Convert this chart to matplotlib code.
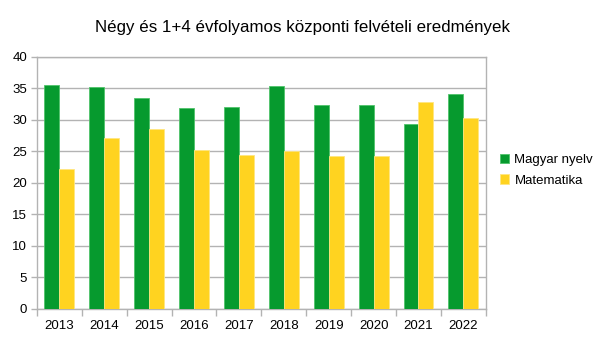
import numpy as np
import matplotlib.pyplot as plt

plt.rcParams['font.family'] = ['Liberation Sans', 'DejaVu Sans']

years = ['2013', '2014', '2015', '2016', '2017', '2018', '2019', '2020', '2021', '2022']
magyar = [35.5, 35.3, 33.5, 31.9, 32.1, 35.4, 32.3, 32.3, 29.3, 34.1]
matek = [22.2, 27.1, 28.6, 25.3, 24.4, 25.0, 24.2, 24.2, 32.8, 30.3]

green = '#069a2e'
yellow = '#ffd320'
grid_col = '#b3b3b3'

fig = plt.figure(figsize=(6.05, 3.41), dpi=100)
ax = fig.add_axes([0.061, 0.094, 0.742, 0.739])

x = np.arange(len(years))
w = 1 / 3
ax.bar(x - w / 2, magyar, w, color=green, edgecolor='#4fc36a', linewidth=0.6, label='Magyar nyelv', zorder=3)
ax.bar(x + w / 2, matek, w, color=yellow, edgecolor='#ffe680', linewidth=0.6, label='Matematika', zorder=3)

ax.set_xlim(-0.5, len(years) - 0.5)
ax.set_ylim(0, 40)
ax.set_yticks(np.arange(0, 41, 5))
ax.yaxis.grid(True, color=grid_col, linewidth=1, zorder=0)
ax.set_xticks(x)
ax.set_xticklabels(years)
ax.set_xticks(np.arange(-0.5, len(years), 1), minor=True)
ax.tick_params(axis='x', which='major', length=0, pad=8, labelsize=9.5, colors='black')
ax.tick_params(axis='x', which='minor', length=5, color=grid_col, width=1)
ax.tick_params(axis='y', length=4, color=grid_col, width=1, labelsize=9.5, pad=3)
for s in ax.spines.values():
    s.set_color(grid_col)
    s.set_linewidth(1)

fig.suptitle('Négy és 1+4 évfolyamos központi felvételi eredmények', fontsize=12.2, y=0.94)

ax.legend(loc='center left', bbox_to_anchor=(1.005, 0.55), frameon=False, fontsize=9.5,
          handlelength=0.7, handleheight=0.7, handletextpad=0.4, labelspacing=0.6)

fig.savefig('out.png', dpi=100)
